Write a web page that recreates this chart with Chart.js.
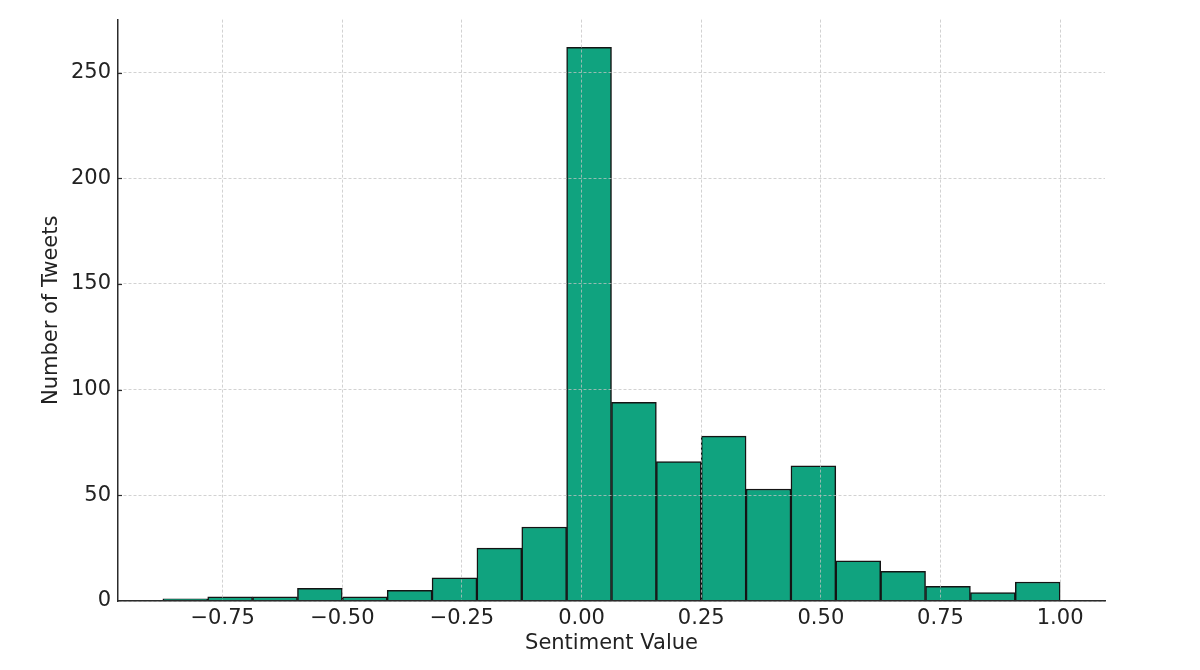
<!DOCTYPE html>
<html><head><meta charset="utf-8">
<script src="https://cdn.jsdelivr.net/npm/chart.js@4.4.1/dist/chart.umd.min.js"></script>
<style>html,body{margin:0;padding:0;background:#fff}#wrap{width:1200px;height:670px}</style>
</head><body><div id="wrap"><canvas id="c" width="1200" height="670"></canvas></div>
<script>
// Histogram bins (centres of each bin, width 0.09375)
const binCenters = [-0.828125, -0.734375, -0.640625, -0.546875, -0.453125, -0.359375, -0.265625, -0.171875, -0.078125, 0.015625,
                    0.109375, 0.203125, 0.296875, 0.390625, 0.484375, 0.578125, 0.671875, 0.765625, 0.859375, 0.953125];
const tweetCounts = [1, 2, 2, 6, 2, 5, 11, 25, 35, 262, 94, 66, 78, 53, 64, 19, 14, 7, 4, 9];
const xTickValues = [-0.75, -0.5, -0.25, 0, 0.25, 0.5, 0.75, 1.0];
const xTickLabels = ['\u22120.75', '\u22120.50', '\u22120.25', '0.00', '0.25', '0.50', '0.75', '1.00'];
const yTickValues = [0, 50, 100, 150, 200, 250];
const yTickLabels = ['0', '50', '100', '150', '200', '250'];
const xAxisTitle = 'Sentiment Value';
const yAxisTitle = 'Number of Tweets';

const FONT = 'DejaVu Sans';
const FS = 21;
const TEXT = '#222';
const GRID = 'rgba(195,195,195,0.75)';
const AXIS = '#2b2b2b';

const innerTicks = {
  id: 'innerTicks',
  afterDraw(chart) {
    const y = chart.scales.y, ctx = chart.ctx, L = chart.chartArea.left;
    ctx.save();
    ctx.strokeStyle = AXIS; ctx.lineWidth = 1.2;
    yTickValues.forEach(v => {
      if (v === 0) return;
      const p = Math.round(y.getPixelForValue(v)) + 0.5;
      ctx.beginPath(); ctx.moveTo(L, p); ctx.lineTo(L + 4, p); ctx.stroke();
    });
    ctx.restore();
  }
};

new Chart(document.getElementById('c'), {
  type: 'bar',
  data: {
    datasets: [{
      data: binCenters.map((c, i) => ({x: c, y: tweetCounts[i]})),
      backgroundColor: '#10a37f',
      borderColor: '#141414',
      borderWidth: 1.5,
      borderSkipped: 'start',
      barPercentage: 1,
      categoryPercentage: 1
    }]
  },
  options: {
    responsive: false,
    animation: false,
    devicePixelRatio: 1,
    layout: {padding: {left: 0, right: 95, top: 13, bottom: 0}},
    plugins: {legend: {display: false}, tooltip: {enabled: false}},
    scales: {
      x: {
        type: 'linear',
        offset: false,
        min: -0.96875,
        max: 1.09375,
        afterBuildTicks: s => { s.ticks = xTickValues.map(v => ({value: v})); },
        afterFit: s => { s.height = 69; },
        ticks: {
          callback: (v) => xTickLabels[xTickValues.indexOf(v)],
          font: {family: FONT, size: FS},
          color: TEXT,
          padding: 5,
          maxRotation: 0,
          autoSkip: false
        },
        grid: {offset: false, color: GRID, lineWidth: 1, drawTicks: false, z: 1},
        border: {display: true, color: AXIS, width: 1.5, dash: [3, 2], z: 2},
        title: {display: true, text: xAxisTitle, font: {family: FONT, size: FS}, color: TEXT, padding: {top: 0, bottom: 14}}
      },
      y: {
        min: 0,
        max: 275.1,
        afterBuildTicks: s => { s.ticks = yTickValues.map(v => ({value: v})); },
        afterFit: s => { s.width = 118; },
        ticks: {
          callback: (v) => yTickLabels[yTickValues.indexOf(v)],
          font: {family: FONT, size: FS},
          color: TEXT,
          padding: 7,
          autoSkip: false
        },
        grid: {color: GRID, lineWidth: 1, drawTicks: false, z: 1},
        border: {display: true, color: AXIS, width: 1.5, dash: [3, 2], z: 2},
        title: {display: true, text: yAxisTitle, font: {family: FONT, size: FS}, color: TEXT, padding: {top: 39, bottom: 0}}
      }
    }
  },
  plugins: [innerTicks]
});
</script></body></html>
